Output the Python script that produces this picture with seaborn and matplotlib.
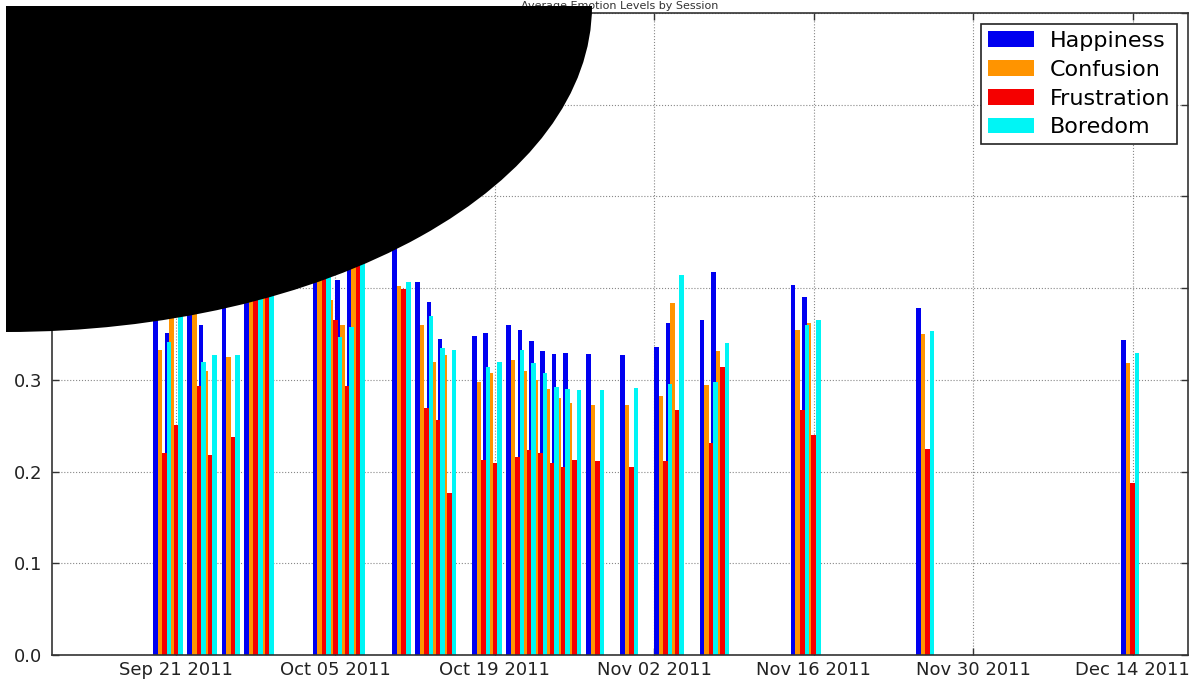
import matplotlib
matplotlib.use("Agg")
import matplotlib.pyplot as plt
import matplotlib.dates as mdates
from matplotlib.patches import Ellipse, Rectangle
import numpy as np
import pandas as pd
import seaborn as sns

# Session dates and mean emotion scores per session
session_dates = [
    "2011-09-19", "2011-09-20", "2011-09-22", "2011-09-23", "2011-09-25",
    "2011-09-27", "2011-09-28", "2011-10-03", "2011-10-04", "2011-10-05",
    "2011-10-06", "2011-10-10", "2011-10-12", "2011-10-13", "2011-10-14",
    "2011-10-17", "2011-10-18", "2011-10-20", "2011-10-21", "2011-10-22",
    "2011-10-23", "2011-10-24", "2011-10-25", "2011-10-27", "2011-10-30",
    "2011-11-02", "2011-11-03", "2011-11-06", "2011-11-07", "2011-11-14",
    "2011-11-15", "2011-11-25", "2011-12-13",
]
happiness = [
    0.420, 0.351, 0.430, 0.360, 0.440, 0.460, 0.450, 0.470, 0.440, 0.409,
    0.480, 0.470, 0.407, 0.385, 0.345, 0.348, 0.351, 0.360, 0.354, 0.342,
    0.331, 0.328, 0.329, 0.328, 0.327, 0.336, 0.362, 0.365, 0.418, 0.403,
    0.390, 0.378, 0.343,
]
confusion = [
    0.333, 0.390, 0.420, 0.310, 0.325, 0.450, 0.460, 0.460, 0.387, 0.360,
    0.470, 0.402, 0.360, 0.320, 0.327, 0.298, 0.307, 0.322, 0.310, 0.300,
    0.290, 0.280, 0.275, 0.273, 0.273, 0.282, 0.384, 0.294, 0.331, 0.354,
    0.362, 0.350, 0.318,
]
frustration = [
    0.220, 0.251, 0.293, 0.218, 0.238, 0.440, 0.470, 0.450, 0.365, 0.293,
    0.460, 0.399, 0.269, 0.256, 0.177, 0.213, 0.209, 0.216, 0.224, 0.220,
    0.209, 0.205, 0.213, 0.211, 0.205, 0.211, 0.267, 0.231, 0.314, 0.267,
    0.240, 0.225, 0.187,
]
boredom = [
    0.341, 0.400, 0.320, 0.327, 0.327, 0.450, 0.460, 0.460, 0.347, 0.358,
    0.470, 0.407, 0.370, 0.335, 0.333, 0.314, 0.320, 0.333, 0.318, 0.307,
    0.292, 0.290, 0.289, 0.289, 0.291, 0.296, 0.414, 0.298, 0.340, 0.360,
    0.365, 0.353, 0.329,
]
emotions = ["Happiness", "Confusion", "Frustration", "Boredom"]
colors = ["#0000f0", "#ff9400", "#f50000", "#00f5f5"]

tick_dates = ["2011-09-21", "2011-10-05", "2011-10-19", "2011-11-02",
              "2011-11-16", "2011-11-30", "2011-12-14"]
tick_labels = ["Sep 21 2011", "Oct 05 2011", "Oct 19 2011", "Nov 02 2011",
               "Nov 16 2011", "Nov 30 2011", "Dec 14 2011"]
y_ticks = [0.0, 0.1, 0.2, 0.3, 0.4, 0.5, 0.6, 0.7]
title_text = "Average Emotion Levels by Session"

# ---- long-form table ----
day_num = mdates.date2num(pd.to_datetime(session_dates))
group_width = 1.6  # days spanned by the four bars of one session
series = [happiness, confusion, frustration, boredom]
frames = []
for name, vals in zip(emotions, series):
    frames.append(pd.DataFrame({
        # bars start at the session date and extend to the right
        "pos": day_num + group_width / 2,
        "emotion": name,
        "value": vals,
    }))
df = pd.concat(frames, ignore_index=True)

W, H = 1195, 687
fig = plt.figure(figsize=(W / 100, H / 100), dpi=100)
ax = fig.add_axes([52 / W, (H - 655) / H, (1188 - 52) / W, (655 - 13) / H])

sns.barplot(
    data=df, x="pos", y="value", hue="emotion", hue_order=emotions,
    palette=colors, native_scale=True, width=group_width, dodge=True,
    errorbar=None, saturation=1, linewidth=0, edgecolor="none", ax=ax,
)

plt.rcParams["font.family"] = ["DejaVu Sans"]

# axes limits and ticks
x_left = mdates.date2num(pd.Timestamp("2011-09-21")) - 10.89
x_right = mdates.date2num(pd.Timestamp("2011-12-14")) + 4.87
ax.set_xlim(x_left, x_right)
ax.set_ylim(0, 0.7)
ax.set_xticks(mdates.date2num(pd.to_datetime(tick_dates)))
ax.set_xticklabels(tick_labels)
ax.set_yticks(y_ticks)
ax.set_yticklabels([f"{v:.1f}" for v in y_ticks])
ax.set_xlabel("")
ax.set_ylabel("")

ax.tick_params(axis="both", which="major", direction="in", length=5,
               width=1, color="#333333", top=True, right=True,
               labelsize=13, labelcolor="#222222")
ax.tick_params(axis="x", pad=4)
ax.tick_params(axis="y", pad=7)

ax.grid(True, linestyle=":", linewidth=0.8, color="#888888")
ax.set_axisbelow(True)
for sp in ax.spines.values():
    sp.set_visible(True)
    sp.set_color("#333333")
    sp.set_linewidth(1.2)

handles, labels = ax.get_legend_handles_labels()
leg = ax.legend(handles, labels, loc="upper right", fontsize=16,
                frameon=True, fancybox=False, shadow=False, framealpha=1,
                edgecolor="#222222", handlelength=2.1, handleheight=0.7,
                handletextpad=0.7, labelspacing=0.4, borderpad=0.3,
                borderaxespad=0.5)
leg.get_frame().set_linewidth(1.2)

# small title in the strip above the plot
fig.text(0.5 * (52 + 1188) / W, 1 - 1 / H, title_text,
         ha="center", va="top", fontsize=8, color="#333333")

# black elliptical overlay in the upper-left corner
ov = Ellipse((6 / W, 1 - 6 / H), 2 * 586 / W, 2 * 326 / H,
             transform=fig.transFigure, facecolor="black",
             edgecolor="none", zorder=50)
fig.add_artist(ov)
clip_box = Rectangle((6 / W, 0), 1, 1 - 6 / H, transform=fig.transFigure)
ov.set_clip_path(clip_box)

fig.savefig("out.png", dpi=100)
